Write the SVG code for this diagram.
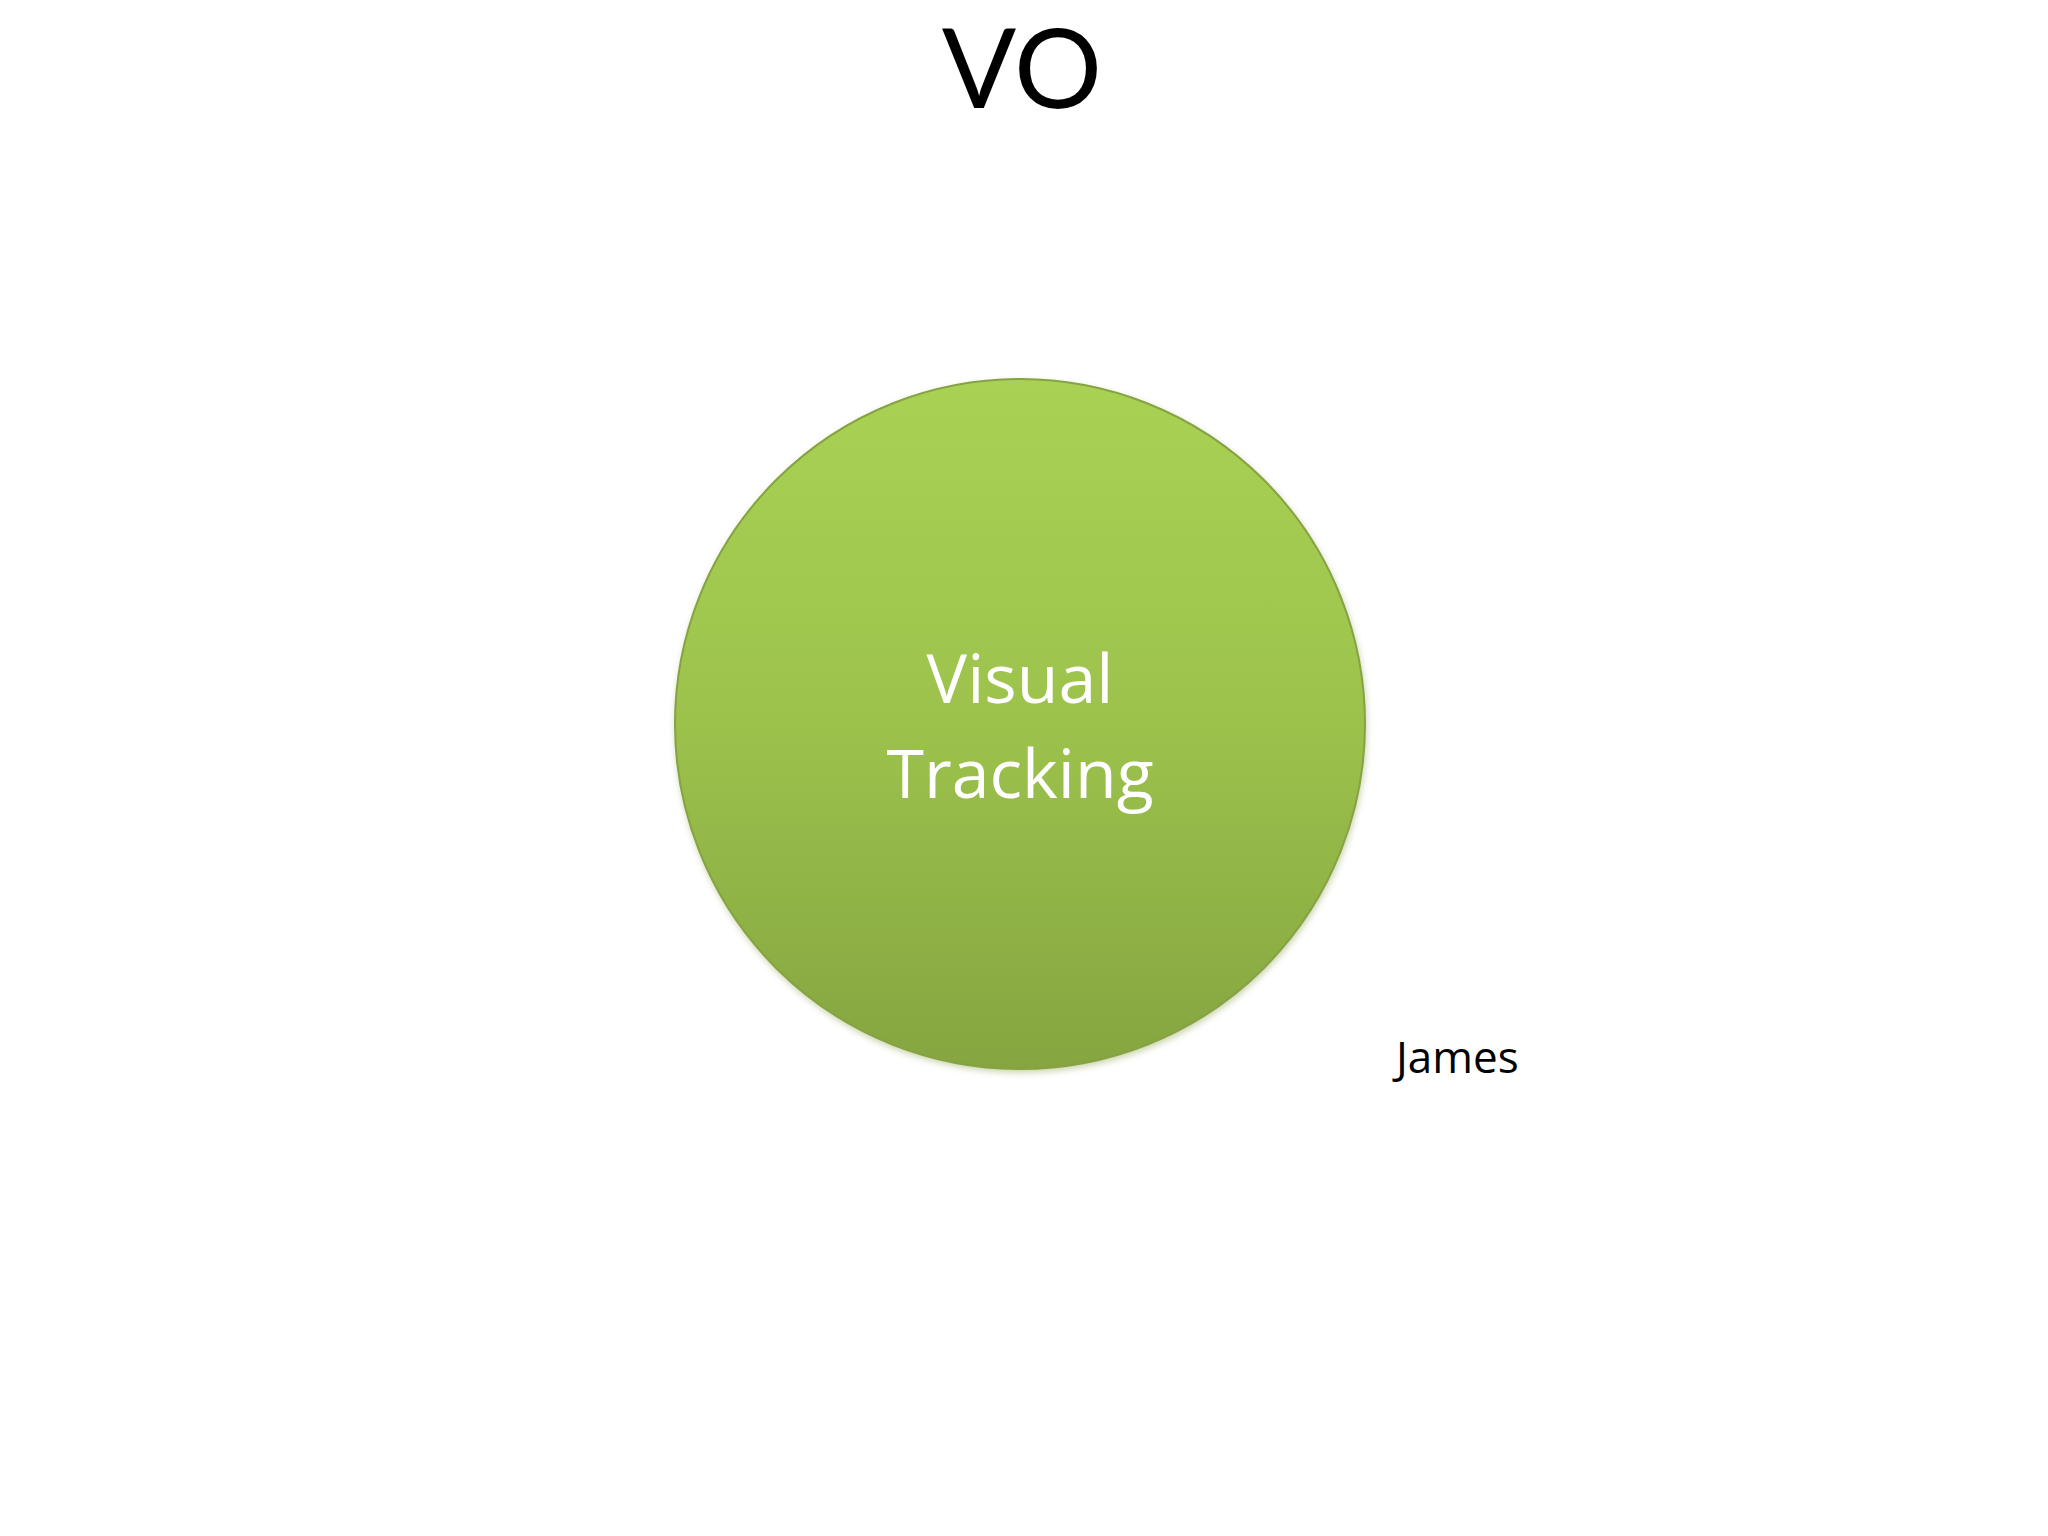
<svg xmlns="http://www.w3.org/2000/svg" width="2048" height="1536" viewBox="0 0 2048 1536">
  <style>
    .title { font-family: Lato, "Open Sans", "Liberation Sans", sans-serif; font-size: 110px; fill: #000; text-anchor: middle; }
    .node-label { font-family: "Open Sans", "Liberation Sans", sans-serif; font-size: 68px; fill: #ffffff; text-anchor: middle; }
    .note { font-family: "Open Sans", "Liberation Sans", sans-serif; font-size: 44px; fill: #000; }
  </style>
  <defs>
    <linearGradient id="greenFill" x1="0" y1="0" x2="0" y2="1">
      <stop offset="0" stop-color="#a9d254"/>
      <stop offset="0.5" stop-color="#9cc24c"/>
      <stop offset="1" stop-color="#85a540"/>
    </linearGradient>
    <filter id="soft" x="-10%" y="-10%" width="120%" height="120%">
      <feGaussianBlur stdDeviation="3"/>
    </filter>
  </defs>
  <rect width="2048" height="1536" fill="#ffffff"/>
  <text class="title" x="1022" y="108">VO</text>
  <g id="node-visual-tracking">
    <circle cx="1021" cy="727" r="346" fill="#7f9a3c" opacity="0.4" filter="url(#soft)"/>
    <circle cx="1020" cy="724" r="345" fill="url(#greenFill)" stroke="#86a242" stroke-width="2"/>
    <text class="node-label" x="1020" y="703">Visual</text>
    <text class="node-label" x="1020" y="798">Tracking</text>
  </g>
  <g id="node-james">
    <text class="note" x="1396" y="1073">James</text>
  </g>
  <g id="connectors"/>
</svg>
